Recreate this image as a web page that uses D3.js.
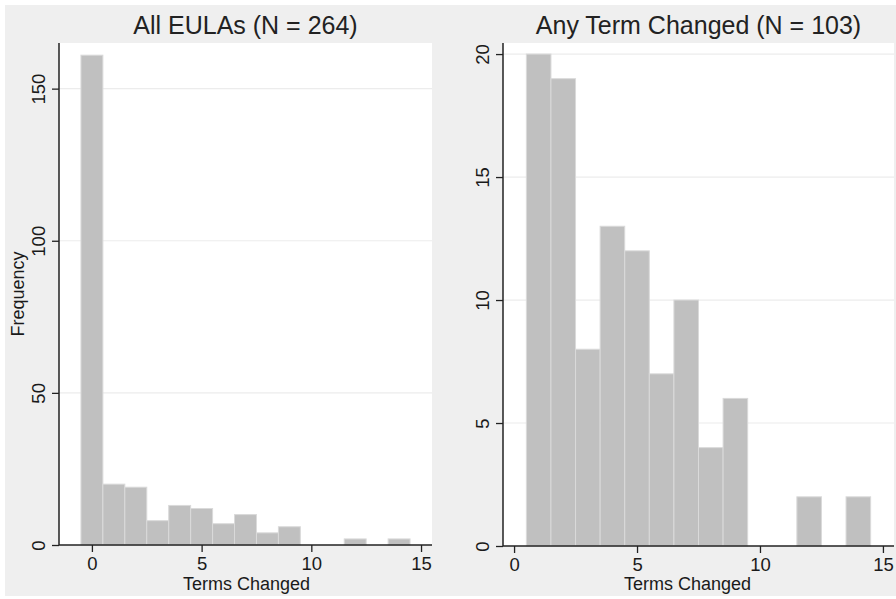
<!DOCTYPE html>
<html>
<head>
<meta charset="utf-8">
<script src="https://cdn.jsdelivr.net/npm/d3@7"></script>
<style>
  html, body { margin: 0; padding: 0; background: #fff; }
  svg { display: block; font-family: "Liberation Sans", Arial, Helvetica, sans-serif; }
</style>
</head>
<body>
<svg id="chart" width="896" height="599"></svg>
<script>
// bins: number of terms changed
const termsChanged = [0, 1, 2, 3, 4, 5, 6, 7, 8, 9, 10, 11, 12, 13, 14];
// frequencies
const allEulasFreq   = [161, 20, 19, 8, 13, 12, 7, 10, 4, 6, 0, 0, 2, 0, 2];
const anyChangedFreq = [0, 20, 19, 8, 13, 12, 7, 10, 4, 6, 0, 0, 2, 0, 2];

const titles = ['All EULAs (N = 264)', 'Any Term Changed (N = 103)'];
const xTicks = [0, 5, 10, 15];
const yTicksAll = [0, 50, 100, 150];
const yTicksAny = [0, 5, 10, 15, 20];

const svg = d3.select('#chart');

// grey graph background
svg.append('rect')
  .attr('x', 5).attr('y', 5)
  .attr('width', 891).attr('height', 591)
  .style('fill', '#efefef');

const panels = [
  { title: titles[0], freq: allEulasFreq, yTicks: yTicksAll, ylabel: 'Frequency',
    left: 59, right: 432, top: 43, bottom: 545, xDomain: [-1.5, 15.5], yMax: 165 },
  { title: titles[1], freq: anyChangedFreq, yTicks: yTicksAny, ylabel: null,
    left: 503, right: 894, top: 43, bottom: 546, xDomain: [-0.45, 15.45], yMax: 20.45 }
];

panels.forEach(p => {
  const x = d3.scaleLinear().domain(p.xDomain).range([p.left, p.right]);
  const y = d3.scaleLinear().domain([0, p.yMax]).range([p.bottom, p.top]);
  const g = svg.append('g');

  // plot region
  g.append('rect')
    .attr('x', p.left).attr('y', p.top)
    .attr('width', p.right - p.left).attr('height', p.bottom - p.top)
    .style('fill', '#ffffff');

  // gridlines
  g.selectAll('.grid')
    .data(p.yTicks.filter(d => d > 0))
    .enter()
    .append('line')
    .attr('x1', p.left).attr('x2', p.right)
    .attr('y1', d => y(d)).attr('y2', d => y(d))
    .style('stroke', '#ececec')
    .style('stroke-width', 1.2);

  // bars
  const bins = termsChanged.map((t, i) => ({ t: t, n: p.freq[i] })).filter(d => d.n > 0);
  g.selectAll('.bar')
    .data(bins)
    .enter()
    .append('rect')
    .attr('class', 'bar')
    .attr('x', d => x(d.t - 0.5))
    .attr('y', d => y(d.n))
    .attr('width', d => x(d.t + 0.5) - x(d.t - 0.5))
    .attr('height', d => y(0) - y(d.n))
    .style('fill', '#c0c0c0')
    .style('stroke', '#dadada')
    .style('stroke-width', 1);

  // x axis
  const xAxis = g.append('g')
    .attr('transform', `translate(0,${p.bottom})`)
    .call(d3.axisBottom(x).tickValues(xTicks).tickSize(7).tickPadding(5).tickFormat(d3.format('d')));
  xAxis.select('.domain').attr('d', `M${p.left},0H${p.right}`);

  // y axis
  const yAxis = g.append('g')
    .attr('transform', `translate(${p.left},0)`)
    .call(d3.axisLeft(y).tickValues(p.yTicks).tickSize(7).tickFormat(d3.format('d')));
  yAxis.select('.domain').attr('d', `M0,${p.top}V${p.bottom}`);
  yAxis.selectAll('.tick text')
    .attr('x', null).attr('dy', null)
    .attr('text-anchor', 'middle')
    .attr('transform', 'translate(-14,0) rotate(-90)');

  [xAxis, yAxis].forEach(a => {
    a.select('.domain').style('stroke', '#222').style('stroke-width', 1.5);
    a.selectAll('.tick line').style('stroke', '#222').style('stroke-width', 1.3);
    a.selectAll('.tick text')
      .style('font-family', '"Liberation Sans", Arial, sans-serif')
      .style('font-size', '18.5px')
      .style('fill', '#1a1a1a');
  });

  // title
  svg.append('text')
    .attr('x', (p.left + p.right) / 2)
    .attr('y', 34)
    .attr('text-anchor', 'middle')
    .style('font-size', '25px')
    .style('fill', '#222')
    .text(p.title);

  // x label
  svg.append('text')
    .attr('x', x(7.05))
    .attr('y', 590)
    .attr('text-anchor', 'middle')
    .style('font-size', '18px')
    .style('fill', '#1a1a1a')
    .text('Terms Changed');

  if (p.ylabel) {
    svg.append('text')
      .attr('transform', `translate(24,${(p.top + p.bottom) / 2}) rotate(-90)`)
      .attr('text-anchor', 'middle')
      .style('font-size', '18px')
      .style('fill', '#1a1a1a')
      .text(p.ylabel);
  }
});
</script>
</body>
</html>
